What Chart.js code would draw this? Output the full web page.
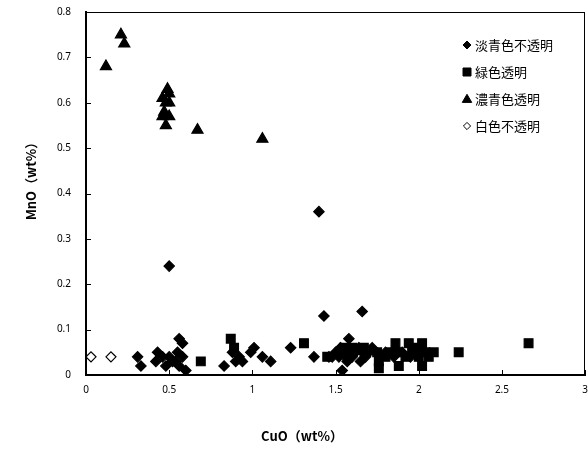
<!DOCTYPE html>
<html>
<head>
<meta charset="utf-8">
<script src="https://cdn.jsdelivr.net/npm/chart.js@4/dist/chart.umd.min.js"></script>
<style>
  html, body { margin: 0; padding: 0; background: #ffffff; }
</style>
</head>
<body>
<canvas id="c" width="588" height="449"></canvas>
<script>
// Series names (legend order)
const seriesNames = ['淡青色不透明', '緑色透明', '濃青色透明', '白色不透明'];

// 淡青色不透明 — CuO / MnO (wt%)
const paleBlueCuO = [
  0.31, 0.33, 0.42, 0.43, 0.46, 0.48, 0.50, 0.52, 0.54, 0.55, 0.56, 0.58, 0.58, 0.56, 0.60, 0.50,
  0.83, 0.88, 0.90, 0.92, 0.94, 0.99, 1.01, 1.06, 1.11,
  1.23, 1.37, 1.40, 1.43, 1.54, 1.58, 1.66,
  1.46, 1.48, 1.50, 1.52, 1.53, 1.55, 1.56, 1.57, 1.58, 1.60, 1.62, 1.64, 1.65, 1.66, 1.68, 1.70,
  1.72, 1.74, 1.80, 1.85, 1.90, 1.95, 2.00
];
const paleBlueMnO = [
  0.04, 0.02, 0.03, 0.05, 0.04, 0.02, 0.04, 0.03, 0.03, 0.05, 0.08, 0.07, 0.04, 0.02, 0.01, 0.24,
  0.02, 0.05, 0.03, 0.04, 0.03, 0.05, 0.06, 0.04, 0.03,
  0.06, 0.04, 0.36, 0.13, 0.01, 0.08, 0.14,
  0.04, 0.04, 0.05, 0.04, 0.06, 0.05, 0.04, 0.03, 0.05, 0.04, 0.05, 0.06, 0.03, 0.05, 0.04, 0.05,
  0.06, 0.05, 0.05, 0.04, 0.05, 0.04, 0.05
];

// 緑色透明
const greenCuO = [
  0.69, 0.87, 0.89, 1.31, 1.45, 1.55, 1.60, 1.67, 1.75, 1.76, 1.76, 1.80, 1.83, 1.86, 1.88, 1.88,
  1.92, 1.94, 1.96, 1.98, 2.00, 2.02, 2.02, 2.04, 2.06, 2.09, 2.24, 2.66
];
const greenMnO = [
  0.03, 0.08, 0.06, 0.07, 0.04, 0.06, 0.06, 0.06, 0.05, 0.03, 0.015, 0.04, 0.05, 0.07, 0.05, 0.02,
  0.04, 0.07, 0.05, 0.06, 0.04, 0.07, 0.02, 0.05, 0.04, 0.05, 0.05, 0.07
];

// 濃青色透明
const deepBlueCuO = [0.12, 0.21, 0.23, 0.46, 0.49, 0.50, 0.48, 0.50, 0.47, 0.46, 0.50, 0.48, 0.67, 1.06];
const deepBlueMnO = [0.68, 0.75, 0.73, 0.61, 0.63, 0.62, 0.60, 0.60, 0.58, 0.57, 0.57, 0.55, 0.54, 0.52];

// 白色不透明
const whiteCuO = [0.03, 0.15];
const whiteMnO = [0.04, 0.04];

// Axis ranges, ticks and titles
const xRange = [0, 3];
const yRange = [0, 0.8];
const xTicks = [0, 0.5, 1, 1.5, 2, 2.5, 3];
const yTicks = [0, 0.1, 0.2, 0.3, 0.4, 0.5, 0.6, 0.7, 0.8];
const xTitle = 'CuO（wt%）';
const yTitle = 'MnO（wt%）';

const toPoints = (xs, ys) => xs.map((x, i) => ({ x: x, y: ys[i] }));

const markerStyles = [
  { pointStyle: 'rectRot', radius: 5.2, fill: '#000000' },
  { pointStyle: 'rect', radius: 6.2, fill: '#000000' },
  { pointStyle: 'triangle', radius: 6.4, fill: '#000000' },
  { pointStyle: 'rectRot', radius: 5, fill: '#ffffff' }
];

const seriesData = [
  toPoints(paleBlueCuO, paleBlueMnO),
  toPoints(greenCuO, greenMnO),
  toPoints(deepBlueCuO, deepBlueMnO),
  toPoints(whiteCuO, whiteMnO)
];

const datasets = seriesNames.map((name, i) => ({
  label: name,
  data: seriesData[i],
  pointStyle: markerStyles[i].pointStyle,
  pointRadius: markerStyles[i].radius,
  pointHoverRadius: markerStyles[i].radius,
  pointBackgroundColor: markerStyles[i].fill,
  pointBorderColor: '#000000',
  pointBorderWidth: 1.2,
  showLine: false
}));

// Small legend marker shapes
function drawMarker(ctx, style, x, y, r, fill) {
  ctx.beginPath();
  if (style === 'rectRot') {
    ctx.moveTo(x - r, y); ctx.lineTo(x, y - r); ctx.lineTo(x + r, y); ctx.lineTo(x, y + r);
  } else if (style === 'rect') {
    ctx.rect(x - r, y - r, 2 * r, 2 * r);
  } else {
    ctx.moveTo(x, y - r * 1.05); ctx.lineTo(x + r * 1.05, y + r * 0.75); ctx.lineTo(x - r * 1.05, y + r * 0.75);
  }
  ctx.closePath();
  ctx.fillStyle = fill;
  ctx.fill();
  ctx.strokeStyle = '#000000';
  ctx.lineWidth = 1;
  ctx.stroke();
}

// Plot frame (filled bars), inward tick marks, axis titles and the legend inside the plot
const decorations = {
  id: 'plotDecorations',
  afterDraw(chart) {
    const ctx = chart.ctx;
    const sx = chart.scales.x;
    const sy = chart.scales.y;
    const L = Math.round(sx.getPixelForValue(xRange[0]));
    const R = Math.round(sx.getPixelForValue(xRange[1]));
    const T = Math.round(sy.getPixelForValue(yRange[1]));
    const B = Math.round(sy.getPixelForValue(yRange[0]));

    ctx.save();
    ctx.fillStyle = '#000000';
    // thin top and right sides
    ctx.fillRect(L, T, R - L, 1);
    ctx.fillRect(R - 1, T, 1, B - T);
    // heavier left and bottom axes
    ctx.fillRect(L - 1, T, 2, B - T + 1);
    ctx.fillRect(L - 1, B - 1, R - L + 1, 2);
    // inward tick marks
    for (const v of xTicks) {
      const px = Math.round(sx.getPixelForValue(v));
      ctx.fillRect(px, B - 5, 1, 5);
    }
    for (const v of yTicks) {
      const py = Math.round(sy.getPixelForValue(v));
      ctx.fillRect(L, py, 5, 1);
    }

    // axis titles
    ctx.font = 'bold 13px "Noto Sans CJK JP"';
    ctx.textAlign = 'center';
    ctx.textBaseline = 'middle';
    ctx.fillText(xTitle, 302, 436);
    ctx.save();
    ctx.translate(31, 178);
    ctx.rotate(-Math.PI / 2);
    ctx.fillText(yTitle, 0, 0);
    ctx.restore();

    // legend
    const rowsY = [45, 72, 99, 126];
    const sizes = [4, 4, 4.5, 3.6];
    ctx.font = '13px "Noto Sans CJK JP"';
    ctx.textAlign = 'left';
    seriesNames.forEach((name, i) => {
      drawMarker(ctx, markerStyles[i].pointStyle, 467, rowsY[i], sizes[i], markerStyles[i].fill);
      ctx.fillStyle = '#000000';
      ctx.fillText(name, 475, rowsY[i] + 0.5);
    });
    ctx.restore();
  }
};

const tickFont = { family: '"Noto Sans", sans-serif', size: 10 };

new Chart(document.getElementById('c'), {
  type: 'scatter',
  data: { datasets: datasets },
  options: {
    responsive: false,
    devicePixelRatio: 1,
    animation: false,
    layout: { autoPadding: false, padding: { top: 12, right: 0, left: 0, bottom: 0 } },
    plugins: { legend: { display: false }, tooltip: { enabled: false } },
    scales: {
      x: {
        type: 'linear',
        position: 'bottom',
        min: xRange[0], max: xRange[1],
        afterBuildTicks: s => { s.ticks = xTicks.map(v => ({ value: v })); },
        afterFit: s => { s.height = 449 - 375; },
        grid: { display: true, drawOnChartArea: false, drawTicks: true, tickLength: 9, tickColor: 'rgba(0,0,0,0)' },
        border: { display: true, color: '#000000', width: 2 },
        ticks: { color: '#000000', padding: 0, font: tickFont, callback: v => String(v) }
      },
      y: {
        type: 'linear',
        position: 'left',
        min: yRange[0], max: yRange[1],
        afterBuildTicks: s => { s.ticks = yTicks.map(v => ({ value: v })); },
        afterFit: s => { s.width = 86; },
        grid: { display: true, drawOnChartArea: false, drawTicks: true, tickLength: 13, tickColor: 'rgba(0,0,0,0)' },
        border: { display: true, color: '#000000', width: 2 },
        ticks: { color: '#000000', padding: 2, font: tickFont, callback: v => String(v) }
      }
    }
  },
  plugins: [decorations]
});
</script>
</body>
</html>
